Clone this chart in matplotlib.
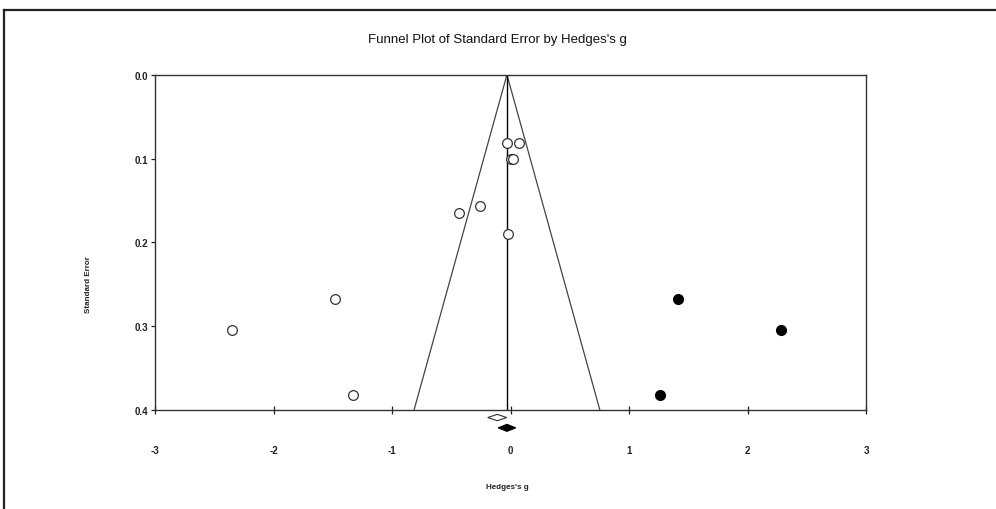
import numpy as np
import matplotlib
matplotlib.use('Agg')
import matplotlib.pyplot as plt
from matplotlib.lines import Line2D

plt.rcParams['font.family'] = ['Liberation Sans', 'DejaVu Sans']

## observed studies (open circles)
obs_g = [-0.028, 0.070, 0.000, 0.019, -0.254, -0.437, -0.017, -2.347, -1.477, -1.325]
obs_se = [0.081, 0.081, 0.100, 0.100, 0.157, 0.165, 0.190, 0.304, 0.267, 0.382]
## imputed studies (filled circles)
imp_g = [1.414, 2.282, 1.262]
imp_se = [0.267, 0.304, 0.382]

obs_mean, obs_half = -0.112, 0.080     # open diamond
adj_mean, adj_half = -0.030, 0.074     # filled diamond
se_max = 0.4

x_ticks = [-3, -2, -1, 0, 1, 2, 3]
y_ticks = [0.0, 0.1, 0.2, 0.3, 0.4]

fig = plt.figure(figsize=(9.96, 5.10), dpi=100)
ax = fig.add_axes([155/996., 1-411/510., (866-155)/996., (411-75.7)/510.])

# funnel
ax.plot([adj_mean - 1.96*se_max, adj_mean, adj_mean + 1.96*se_max], [se_max, 0, se_max],
        color='#444444', lw=0.9)
ax.plot([adj_mean, adj_mean], [0, se_max], color='black', lw=1.0)

ax.plot(obs_g, obs_se, 'o', mfc='white', mec='#333333', mew=0.9, ms=7, clip_on=False)
ax.plot(imp_g, imp_se, 'o', mfc='black', mec='black', ms=7, clip_on=False)

# diamonds below the axis
def diamond(c, h, y, hh, filled):
    xs = [c - h, c, c + h, c]
    ys = [y, y - hh, y, y + hh]
    if filled:
        ax.fill(xs, ys, facecolor='black', edgecolor='black', lw=0.8, clip_on=False)
    else:
        ax.fill(xs, ys, facecolor='white', edgecolor='#333333', lw=0.8, clip_on=False)

diamond(obs_mean, obs_half, 0.409, 0.0038, False)
diamond(adj_mean, adj_half, 0.4213, 0.0042, True)

ax.set_xlim(-3, 3)
ax.set_ylim(0.4, 0.0)
ax.set_xticks(x_ticks)
ax.set_xticklabels([str(t) for t in x_ticks])
ax.set_yticks(y_ticks)
ax.set_yticklabels(['%.1f' % t for t in y_ticks])
ax.tick_params(axis='x', direction='inout', length=6, width=0.9, pad=22,
               labelsize=7, colors='#222222')
ax.tick_params(axis='y', direction='out', length=3, width=0.9, pad=2,
               labelsize=7, colors='#222222')
for lab in ax.get_xticklabels() + ax.get_yticklabels():
    lab.set_fontweight('bold')
for s in ax.spines.values():
    s.set_color('#333333')
    s.set_linewidth(1.0)

fig.text(497/996., 1-40/510., "Funnel Plot of Standard Error by Hedges's g",
         ha='center', va='center', fontsize=9.5, color='#111111')
fig.text(507/996., 1-488/510., "Hedges's g", ha='center', va='center',
         fontsize=5.8, fontweight='bold', color='#222222')
fig.text(88/996., 1-285/510., "Standard Error", ha='center', va='center',
         rotation=90, fontsize=5.8, fontweight='bold', color='#222222')

# outer frame (top and left edges)
fig.add_artist(Line2D([3.5/996., 1.0], [1-10.5/510., 1-10.5/510.],
                      transform=fig.transFigure, color='#222222', lw=1.6))
fig.add_artist(Line2D([3.5/996., 3.5/996.], [0.0, 1-10.5/510.],
                      transform=fig.transFigure, color='#222222', lw=1.6))

fig.savefig('out.png', dpi=100)
